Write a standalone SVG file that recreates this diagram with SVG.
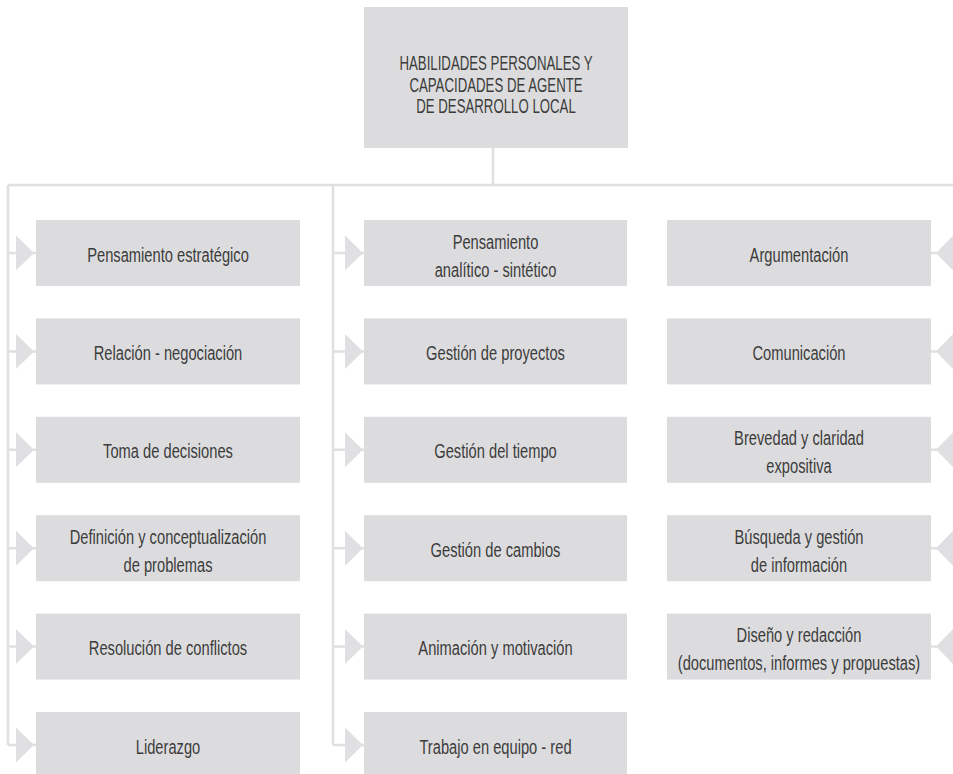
<svg xmlns="http://www.w3.org/2000/svg" width="953" height="774" viewBox="0 0 953 774">
<style>
.box{fill:#dcdcde}
.ln{stroke:#e0e0e2;stroke-width:2.5;fill:none}
.tri{fill:#e0e0e2}
text{font-family:"Liberation Sans",Arial,sans-serif;font-size:21px;fill:#3c3c3c;text-anchor:middle}
</style>
<rect width="953" height="774" fill="#ffffff"/>
<g id="connectors">
<path class="ln" d="M493 148V185M8 185H953M8 185V745M333 185V745"/>
<path class="ln" d="M8 253H36M8 351.4H36M8 449.8H36M8 548.2H36M8 646.6H36M8 745H36"/>
<path class="ln" d="M333 253H364M333 351.4H364M333 449.8H364M333 548.2H364M333 646.6H364M333 745H364"/>
<path class="ln" d="M931 253H953M931 351.4H953M931 449.8H953M931 548.2H953M931 646.6H953"/>
<g class="tri">
<polygon points="16,235.5 16,270.5 34,253"/>
<polygon points="16,333.9 16,368.9 34,351.4"/>
<polygon points="16,432.3 16,467.3 34,449.8"/>
<polygon points="16,530.7 16,565.7 34,548.2"/>
<polygon points="16,629.1 16,664.1 34,646.6"/>
<polygon points="16,727.5 16,762.5 34,745"/>
<polygon points="345,235.5 345,270.5 363,253"/>
<polygon points="345,333.9 345,368.9 363,351.4"/>
<polygon points="345,432.3 345,467.3 363,449.8"/>
<polygon points="345,530.7 345,565.7 363,548.2"/>
<polygon points="345,629.1 345,664.1 363,646.6"/>
<polygon points="345,727.5 345,762.5 363,745"/>
<polygon points="953,235.5 953,270.5 936,253"/>
<polygon points="953,333.9 953,368.9 936,351.4"/>
<polygon points="953,432.3 953,467.3 936,449.8"/>
<polygon points="953,530.7 953,565.7 936,548.2"/>
<polygon points="953,629.1 953,664.1 936,646.6"/>
</g>
</g>
<g id="root"><rect class="box" x="364" y="7" width="264" height="141"/>
<text transform="translate(496 70) scale(0.63 1)">HABILIDADES PERSONALES Y</text>
<text transform="translate(496 91.7) scale(0.63 1)">CAPACIDADES DE AGENTE</text>
<text transform="translate(496 113.3) scale(0.63 1)">DE DESARROLLO LOCAL</text></g>
<g id="l1"><rect class="box" x="36" y="220" width="264" height="66"/><text transform="translate(168 261.5) scale(0.7 1)">Pensamiento estratégico</text></g>
<g id="l2"><rect class="box" x="36" y="318.4" width="264" height="66"/><text transform="translate(168 359.9) scale(0.7 1)">Relación - negociación</text></g>
<g id="l3"><rect class="box" x="36" y="416.8" width="264" height="66"/><text transform="translate(168 458.3) scale(0.7 1)">Toma de decisiones</text></g>
<g id="l4"><rect class="box" x="36" y="515.2" width="264" height="66"/><text transform="translate(168 543.7) scale(0.7 1)">Definición y conceptualización</text><text transform="translate(168 571.7) scale(0.7 1)">de problemas</text></g>
<g id="l5"><rect class="box" x="36" y="613.6" width="264" height="66"/><text transform="translate(168 655.1) scale(0.7 1)">Resolución de conflictos</text></g>
<g id="l6"><rect class="box" x="36" y="712" width="264" height="66"/><text transform="translate(168 753.5) scale(0.7 1)">Liderazgo</text></g>
<g id="m1"><rect class="box" x="364" y="220" width="263" height="66"/><text transform="translate(495.5 248.5) scale(0.7 1)">Pensamiento</text><text transform="translate(495.5 276.5) scale(0.7 1)">analítico - sintético</text></g>
<g id="m2"><rect class="box" x="364" y="318.4" width="263" height="66"/><text transform="translate(495.5 359.9) scale(0.7 1)">Gestión de proyectos</text></g>
<g id="m3"><rect class="box" x="364" y="416.8" width="263" height="66"/><text transform="translate(495.5 458.3) scale(0.7 1)">Gestión del tiempo</text></g>
<g id="m4"><rect class="box" x="364" y="515.2" width="263" height="66"/><text transform="translate(495.5 556.7) scale(0.7 1)">Gestión de cambios</text></g>
<g id="m5"><rect class="box" x="364" y="613.6" width="263" height="66"/><text transform="translate(495.5 655.1) scale(0.7 1)">Animación y motivación</text></g>
<g id="m6"><rect class="box" x="364" y="712" width="263" height="66"/><text transform="translate(495.5 753.5) scale(0.7 1)">Trabajo en equipo - red</text></g>
<g id="r1"><rect class="box" x="667" y="220" width="264" height="66"/><text transform="translate(799 261.5) scale(0.7 1)">Argumentación</text></g>
<g id="r2"><rect class="box" x="667" y="318.4" width="264" height="66"/><text transform="translate(799 359.9) scale(0.7 1)">Comunicación</text></g>
<g id="r3"><rect class="box" x="667" y="416.8" width="264" height="66"/><text transform="translate(799 445.3) scale(0.7 1)">Brevedad y claridad</text><text transform="translate(799 473.3) scale(0.7 1)">expositiva</text></g>
<g id="r4"><rect class="box" x="667" y="515.2" width="264" height="66"/><text transform="translate(799 543.7) scale(0.7 1)">Búsqueda y gestión</text><text transform="translate(799 571.7) scale(0.7 1)">de información</text></g>
<g id="r5"><rect class="box" x="667" y="613.6" width="264" height="66"/><text transform="translate(799 642.1) scale(0.7 1)">Diseño y redacción</text><text transform="translate(799 670.1) scale(0.7 1)">(documentos, informes y propuestas)</text></g>
</svg>
